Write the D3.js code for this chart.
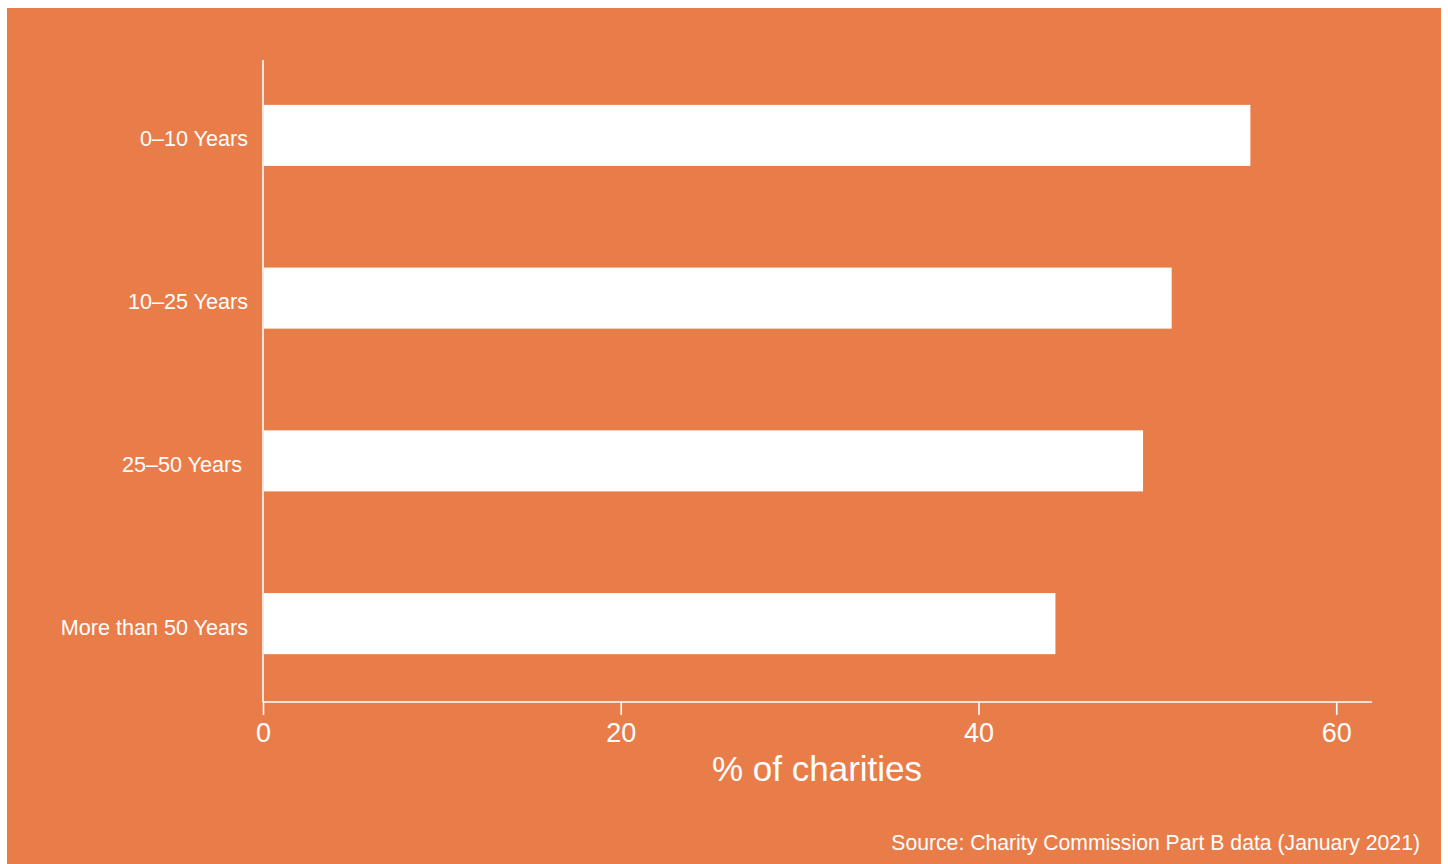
<!DOCTYPE html>
<html>
<head>
<meta charset="utf-8">
<script src="https://cdn.jsdelivr.net/npm/d3@7"></script>
<style>
  html, body { margin: 0; padding: 0; background: #ffffff; }
  text { font-family: "Liberation Sans", Arial, Helvetica, sans-serif; fill: #ffffff; }
</style>
</head>
<body>
<svg id="chart" width="1448" height="864"></svg>
<script>
const categories = ["0–10 Years", "10–25 Years", "25–50 Years ", "More than 50 Years"];
const values = [55.2, 50.8, 49.2, 44.3];
const xTicks = [0, 20, 40, 60];
const xTitle = "% of charities";
const sourceText = "Source: Charity Commission Part B data (January 2021)";

const svg = d3.select("#chart");
const bg = "#E97D49";

svg.append("rect").attr("x", 7).attr("y", 8).attr("width", 1434).attr("height", 856).attr("fill", bg);

const x = d3.scaleLinear().domain([0, 62]).range([263, 1372]);
const y = d3.scaleBand().domain(categories).range([54, 705]).paddingInner(0.625).paddingOuter(0.3125);

// bars
svg.append("g").selectAll("rect").data(categories).join("rect")
  .attr("x", x(0) + 1)
  .attr("y", d => y(d))
  .attr("width", (d, i) => x(values[i]) - x(0) - 1)
  .attr("height", y.bandwidth())
  .attr("fill", "#ffffff");

// y axis line
svg.append("line").attr("x1", x(0)).attr("x2", x(0)).attr("y1", 60).attr("y2", 702)
  .attr("stroke", "#fff").attr("stroke-width", 1.6);

// category labels
svg.append("g").selectAll("text").data(categories).join("text")
  .attr("x", 248)
  .attr("y", d => y(d) + y.bandwidth() / 2 + 11)
  .attr("text-anchor", "end")
  .attr("font-size", 21.6)
  .style("white-space", "pre")
  .text(d => d);

// x axis
const xAxis = d3.axisBottom(x).tickValues(xTicks).tickSize(13).tickPadding(8).tickFormat(d3.format("d"));
const gx = svg.append("g").attr("transform", "translate(0,702)").call(xAxis);
gx.select(".domain").remove();
gx.append("line").attr("x1", x(0)).attr("x2", 1372).attr("y1", 0).attr("y2", 0)
  .attr("stroke", "#fff").attr("stroke-width", 1.6);
gx.selectAll(".tick line").attr("stroke", "#fff").attr("stroke-width", 1.6);
gx.selectAll(".tick text").attr("fill", "#fff").attr("font-size", 27)
  .attr("font-family", "Liberation Sans, Arial, sans-serif");

// x title
svg.append("text").attr("x", 817).attr("y", 781).attr("text-anchor", "middle")
  .attr("font-size", 35).text(xTitle);

// source
svg.append("text").attr("x", 1420).attr("y", 850).attr("text-anchor", "end")
  .attr("font-size", 21.2).text(sourceText);
</script>
</body>
</html>
